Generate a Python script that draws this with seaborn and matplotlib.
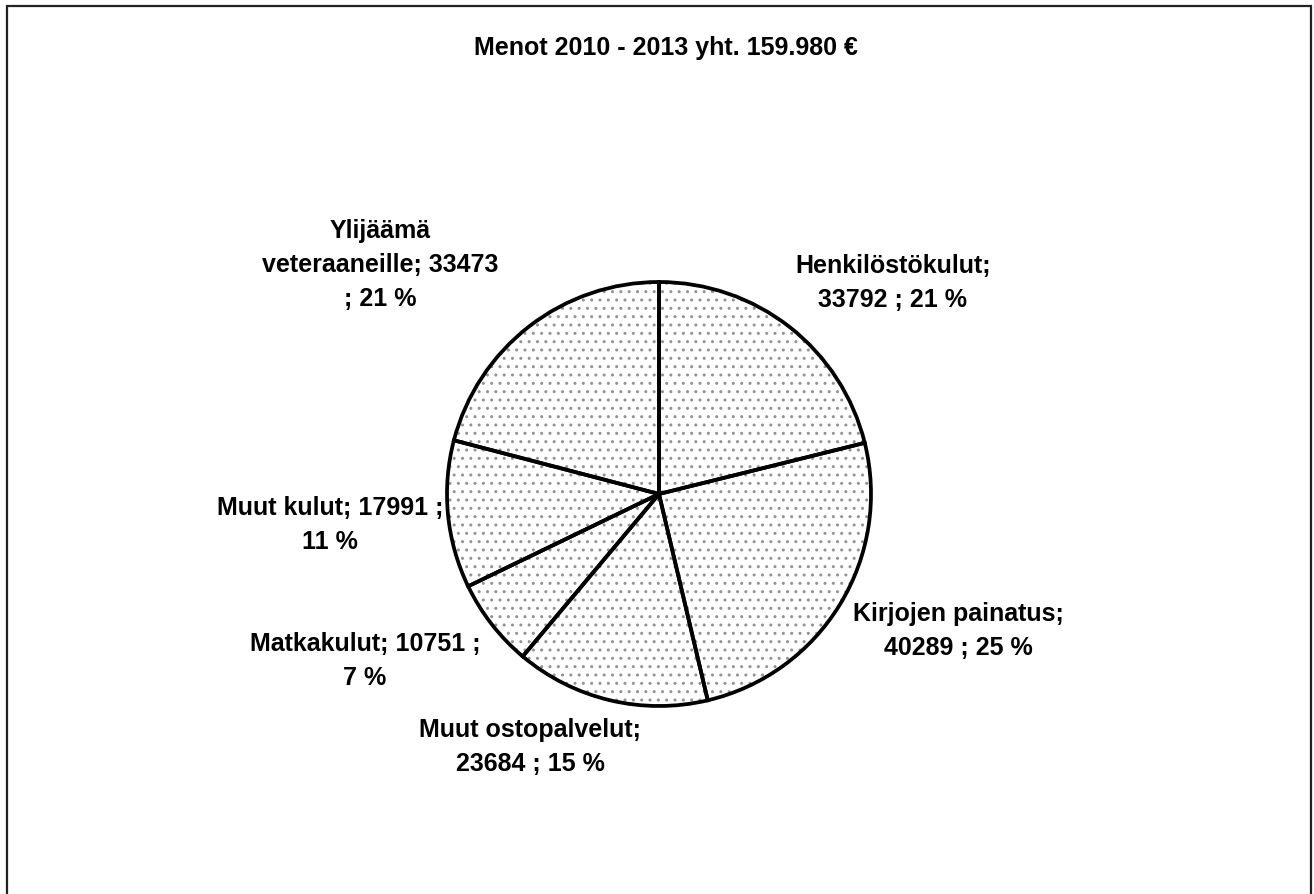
import numpy as np
import pandas as pd
import seaborn as sns
import matplotlib.pyplot as plt
from matplotlib.patches import Rectangle

# data
categories = ['Henkilöstökulut', 'Kirjojen painatus', 'Muut ostopalvelut',
              'Matkakulut', 'Muut kulut', 'Ylijäämä\nveteraaneille']
values = [33792, 40289, 23684, 10751, 17991, 33473]
percents = [21, 25, 15, 7, 11, 21]
title = 'Menot 2010 - 2013 yht. 159.980 €'

# how each label is broken into lines
label_fmt = ['{n};\n{v} ; {p} %', '{n};\n{v} ; {p} %', '{n};\n{v} ; {p} %',
             '{n}; {v} ;\n{p} %', '{n}; {v} ;\n{p} %', '{n}; {v}\n; {p} %']

# label centres in pixels (x from left, y from top)
label_pos = [(893, 283), (958, 631), (530, 747), (365, 661), (330, 525), (380, 265)]

df = pd.DataFrame({'cat': categories, 'value': values, 'pct': percents})

sns.set_theme(style='white')
plt.rcParams['font.family'] = ['Liberation Sans', 'DejaVu Sans']

W, H = 1314, 895
fig = plt.figure(figsize=(W / 100, H / 100), dpi=100)
ax = fig.add_axes([0, 0, 1, 1])

cx, cy, r = 659, 495, 212

# dotted fill
ax.pie(df['value'], startangle=90, counterclock=False, center=(cx, H - cy), radius=r,
       wedgeprops=dict(facecolor='white', edgecolor='#939393', linewidth=0, hatch='..'))
# outlines
ax.pie(df['value'], startangle=90, counterclock=False, center=(cx, H - cy), radius=r,
       wedgeprops=dict(fill=False, edgecolor='black', linewidth=2.7))

for (x, y), fmt, row in zip(label_pos, label_fmt, df.itertuples()):
    ax.text(x, H - y, fmt.format(n=row.cat, v=row.value, p=row.pct),
            ha='center', va='center', fontsize=18, fontweight='bold',
            linespacing=1.55, color='black')

ax.text(666, H - 48, title, ha='center', va='center', fontsize=18,
        fontweight='bold', color='black')

ax.set_xlim(0, W)
ax.set_ylim(0, H)
ax.set_aspect('auto')
ax.axis('off')

fig.patches.append(Rectangle((7 / W, -0.05), (1311 - 7) / W, (H - 7) / H + 0.05,
                             transform=fig.transFigure, fill=False,
                             edgecolor='#222222', linewidth=1.6))

fig.savefig('out.png', dpi=100)
